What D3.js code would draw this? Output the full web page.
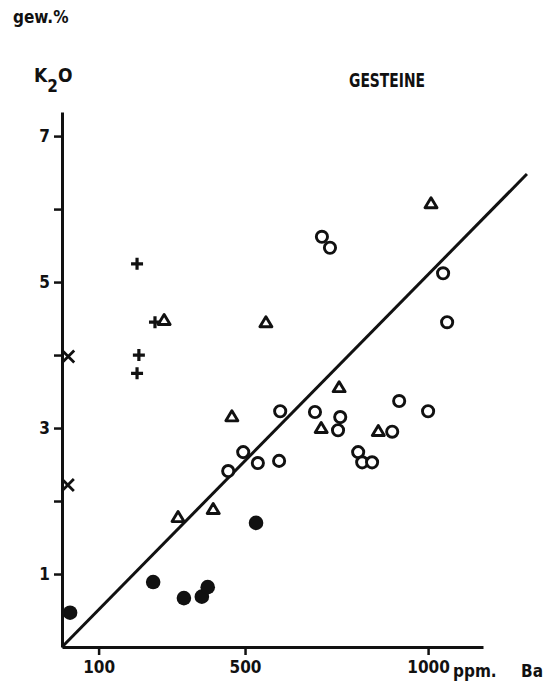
<!DOCTYPE html>
<html>
<head>
<meta charset="utf-8">
<script src="https://cdn.jsdelivr.net/npm/d3@7"></script>
<style>
  body { margin: 0; background: #fff; }
  svg { display: block; }
  text { font-family: "DejaVu Sans Condensed", "DejaVu Sans", Arial, sans-serif; font-weight: bold; fill: #111; }
</style>
</head>
<body>
<svg class="chart" width="548" height="681"></svg>
<script>
// Ba (ppm) vs K2O (gew.%) – Gesteine
const circlesOpen = [
  [596, 3.23], [495, 2.67], [454, 2.41], [535, 2.52], [593, 2.55],
  [691, 3.22], [760, 3.15], [754, 2.97], [710, 5.62], [732, 5.47],
  [1041, 5.12], [1052, 4.45], [921, 3.37], [1000, 3.23], [902, 2.95],
  [809, 2.67], [820, 2.53], [847, 2.53]
];
const circlesFilled = [
  [22, 0.47], [249, 0.89], [333, 0.67], [382, 0.69], [398, 0.82], [530, 1.70]
];
const triangles = [
  [279, 4.48], [557, 4.45], [464, 3.16], [317, 1.78], [413, 1.89],
  [757, 3.56], [708, 3.0], [1008, 6.08], [864, 2.96]
];
const pluses = [[205, 5.25], [254, 4.45], [210, 4.0], [205, 3.75]];
const crosses = [[17, 3.98], [16, 2.22]];
const trendLine = [[0, 0], [1270, 6.48]];

const yTicks = [1, 2, 3, 4, 5, 6, 7];
const xTicks = [100, 500, 1000];

const font = "DejaVu Sans Condensed, DejaVu Sans, Arial, sans-serif";
const svg = d3.select(".chart");

const xScale = d3.scaleLinear().domain([0, 1150]).range([62, 483]);
const yScale = d3.scaleLinear().domain([0, 7.33]).range([647, 112]);

// axes
const yAxis = d3.axisLeft(yScale)
  .tickValues(yTicks)
  .tickSize(8)
  .tickSizeOuter(0)
  .tickPadding(4)
  .tickFormat(d => d % 2 === 1 ? d : "");

const xAxis = d3.axisBottom(xScale)
  .tickValues(xTicks)
  .tickSize(8)
  .tickSizeOuter(0)
  .tickPadding(6)
  .tickFormat(d => String(d));

const gy = svg.append("g").attr("transform", "translate(62,0)").call(yAxis);
const gx = svg.append("g").attr("transform", "translate(0,647)").call(xAxis);

[gx, gy].forEach(g => {
  g.select(".domain").attr("stroke", "#111").attr("stroke-width", 3);
  g.selectAll(".tick line").attr("stroke", "#111").attr("stroke-width", 2.5);
  g.selectAll(".tick text")
    .attr("font-family", font)
    .attr("font-weight", "bold")
    .attr("font-size", 17)
    .attr("fill", "#111");
});

// trend line
svg.append("path")
  .datum(trendLine)
  .attr("fill", "none")
  .attr("stroke", "#111")
  .attr("stroke-width", 3)
  .attr("d", d3.line().x(d => xScale(d[0])).y(d => yScale(d[1])));

const at = d => `translate(${xScale(d[0])},${yScale(d[1])})`;

svg.append("g").selectAll("circle")
  .data(circlesOpen)
  .join("circle")
  .attr("transform", at)
  .attr("r", 5.6)
  .attr("fill", "#fff")
  .attr("stroke", "#111")
  .attr("stroke-width", 2.9);

svg.append("g").selectAll("circle")
  .data(circlesFilled)
  .join("circle")
  .attr("transform", at)
  .attr("r", 7.3)
  .attr("fill", "#111");

svg.append("g").selectAll("path")
  .data(triangles)
  .join("path")
  .attr("transform", at)
  .attr("d", "M0,-5.5L6,4.5L-6,4.5Z")
  .attr("fill", "#fff")
  .attr("stroke", "#111")
  .attr("stroke-width", 2.9)
  .attr("stroke-linejoin", "round");

svg.append("g").selectAll("path")
  .data(pluses)
  .join("path")
  .attr("transform", at)
  .attr("d", "M-6,0H6M0,-6V6")
  .attr("stroke", "#111")
  .attr("stroke-width", 3.2);

svg.append("g").selectAll("path")
  .data(crosses)
  .join("path")
  .attr("transform", at)
  .attr("d", "M-6,-6L6,6M-6,6L6,-6")
  .attr("stroke", "#111")
  .attr("stroke-width", 2.8);

// labels
svg.append("text").attr("x", 13).attr("y", 23).attr("font-size", 17).text("gew.%");

const k = svg.append("text").attr("x", 34).attr("y", 82).attr("font-size", 19);
k.append("tspan").text("K");
k.append("tspan").attr("dy", 10).attr("font-size", 17).text("2");
k.append("tspan").attr("dy", -10).text("O");

svg.append("text").attr("x", 349).attr("y", 87).attr("font-size", 19)
  .attr("textLength", 76).attr("lengthAdjust", "spacingAndGlyphs").text("GESTEINE");

svg.append("text").attr("x", 453).attr("y", 677).attr("font-size", 17).text("ppm.");
svg.append("text").attr("x", 521).attr("y", 677).attr("font-size", 17).text("Ba");
</script>
</body>
</html>
